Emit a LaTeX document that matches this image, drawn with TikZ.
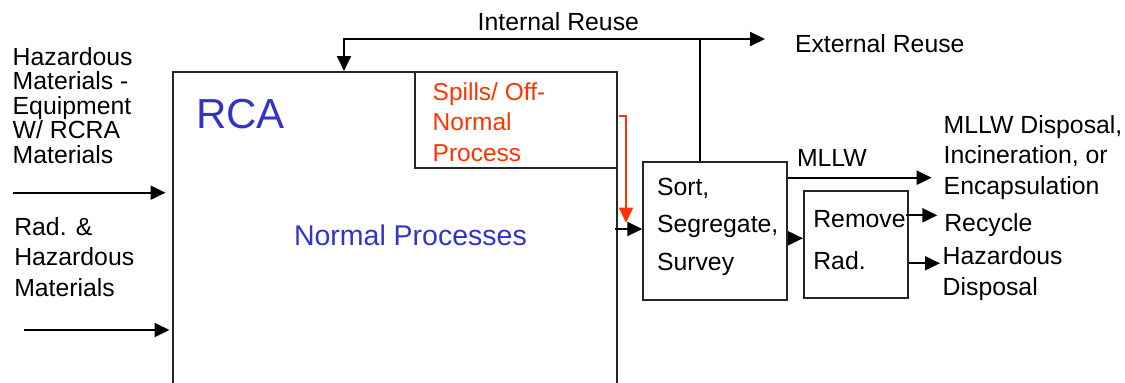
\documentclass[tikz,border=0pt]{standalone}
\usepackage{fontspec}
\setmainfont{Liberation Sans}
\usepackage{tikz}
\usetikzlibrary{
    arrows.meta,
    calc,
    positioning
}
\definecolor{rcablue}{RGB}{51,51,204}
\definecolor{spillred}{RGB}{255,51,0}

\begin{document}
\begin{tikzpicture}[x=1pt, y=-1pt, >={Triangle[length=15pt,width=14pt]}, line width=2pt]
  \useasboundingbox (0,0) rectangle (1125,383);

  % base west of a label = baseline of its last line
  \tikzset{
    blk/.style={draw=black!85, rectangle, inner sep=0pt},
    lbl/.style={anchor=base west, inner sep=0pt, align=left,
      font=\fontsize{24.8}{25}\selectfont},
    flow/.style={->, black}
  }

  % Process boxes
  \node[blk, minimum width=444.5pt, minimum height=400pt] (RCA) at (394.75,272) {};
  \node[blk, minimum width=202pt, minimum height=96.3pt] (spills) at (516,120.15) {};
  \node[blk, minimum width=144pt, minimum height=137.7pt] (sort) at (715.3,231.15) {};
  \node[blk, minimum width=104pt, minimum height=107.6pt] (remove) at (856,244.5) {};

  % Box texts
  \node[lbl, text=rcablue, font=\fontsize{42}{42}\selectfont] (rcatxt) at (195,128) {RCA};
  \node[lbl, text=rcablue, font=\fontsize{28.5}{30}\selectfont] (normtxt) at (293,245.5) {Normal Processes};
  \node[lbl, text=spillred, font=\fontsize{24.5}{30.7}\selectfont] (spilltxt) at (431.7,161.4)
    {Spills/ Off-\\Normal\\Process};
  \node[lbl, font=\fontsize{24.8}{37.5}\selectfont] (sorttxt) at (656,270)
    {Sort,\\Segregate,\\Survey};
  \node[lbl, font=\fontsize{24.8}{41.3}\selectfont] (remtxt) at (812.3,269)
    {Remove\\Rad.};

  % Inputs
  \node[lbl, font=\fontsize{24.8}{24.6}\selectfont] (hazin) at (11.7,163.4)
    {Hazardous\\Materials -\\Equipment\\W/ RCRA\\Materials};
  \node[lbl, font=\fontsize{24.8}{30.8}\selectfont] (radin) at (13.3,296.6)
    {Rad. \&\\Hazardous\\Materials};
  \coordinate (hazarr) at (13,192.7);
  \coordinate (radarr) at (24,330);
  \draw[flow, shorten >=6pt] (hazarr) -- (hazarr -| RCA.west);
  \draw[flow, shorten >=2pt] (radarr) -- (radarr -| RCA.west);

  % Reuse loop
  \coordinate (loop) at (700,39);
  \coordinate (ret) at (344,39);
  \coordinate (ext) at (765,39);
  \draw (sort.north -| loop) -- (loop);
  \draw[flow] (loop) -- (ret) -- (ret |- RCA.north);
  \draw[flow] (loop) -- (ext);
  \node[lbl] (intlbl) at (476.7,30) {Internal Reuse};
  \node[lbl] (extlbl) at (794,52) {External Reuse};

  % Off-normal path
  \coordinate (offa) at (619.3,116);
  \coordinate (offb) at (626,116);
  \coordinate (offc) at (626,222.7);
  \draw[->, spillred, line width=1.6pt] (offa) -- (offb) -- (offc);

  % RCA to sorting
  \coordinate (rcaout) at (615,229);
  \draw[flow] (rcaout) -- (rcaout -| sort.west);
  \coordinate (sortout) at (787,238.3);
  \draw[flow] (sort.east |- sortout) -- (sortout -| remove.west);

  % Outputs
  \coordinate (mllwend) at (931.7,177.7);
  \draw[flow] (sort.east |- mllwend) -- (mllwend);
  \node[lbl] (mllw) at (796,166.7) {MLLW};
  \node[lbl, font=\fontsize{24.8}{30.5}\selectfont] (mllwdisp) at (942.7,194.3)
    {MLLW Disposal,\\Incineration, or\\Encapsulation};

  \coordinate (recyst) at (906,215.3);
  \coordinate (recyend) at (937.3,215.3);
  \draw[flow] (recyst) -- (recyend);
  \node[lbl] (recycle) at (943.3,231.7) {Recycle};

  \coordinate (hazend) at (940,263.3);
  \draw[flow] (remove.east |- hazend) -- (hazend);
  \node[lbl, font=\fontsize{24.8}{30.7}\selectfont] (hazdisp) at (941.7,295)
    {Hazardous\\Disposal};

\end{tikzpicture}
\end{document}
